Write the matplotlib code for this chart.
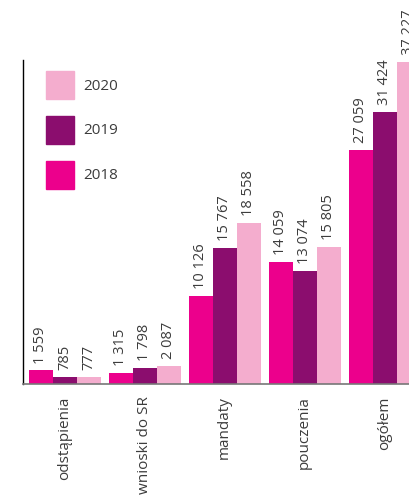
import matplotlib.pyplot as plt
import numpy as np
from matplotlib.patches import Patch

plt.rcParams['font.family'] = ['Open Sans', 'DejaVu Sans']

categories = ['odstąpienia', 'wnioski do SR', 'mandaty', 'pouczenia', 'ogółem']
years = ['2018', '2019', '2020']
v2018 = [1559, 1315, 10126, 14059, 27059]
v2019 = [785, 1798, 15767, 13074, 31424]
v2020 = [777, 2087, 18558, 15805, 37227]

colors = ['#EC008C', '#8B0D6E', '#F4ADCE']
text_color = '#3c3c3c'


def fmt(v):
    return f'{v:,}'.replace(',', ' ')


fig = plt.figure(figsize=(4.09, 4.97), dpi=100)
ax = fig.add_axes([0.0562, 0.2274, 0.972, 0.6519])

x = np.arange(len(categories))
width = 0.3
for i, (vals, c) in enumerate(zip([v2018, v2019, v2020], colors)):
    pos = x + (i - 1) * width
    ax.bar(pos, vals, width=width, color=c, linewidth=0)
    for p, v in zip(pos, vals):
        ax.annotate(fmt(v), (p, v), xytext=(0, 5), textcoords='offset points',
                    rotation=90, ha='center', va='bottom', fontsize=10.5,
                    color=text_color, annotation_clip=False)

ax.set_xlim(-0.52, 4.45)
ax.set_ylim(0, 37450)
ax.set_yticks([])
ax.set_xticks(x)
ax.set_xticklabels(categories, rotation=90, fontsize=11, color=text_color)
ax.tick_params(axis='x', length=0, pad=9)

for s in ['top', 'right']:
    ax.spines[s].set_visible(False)
ax.spines['left'].set_color('black')
ax.spines['left'].set_linewidth(1)
ax.spines['bottom'].set_color('#777777')
ax.spines['bottom'].set_linewidth(1.2)

# legend: squares ~28 px, gap ~17 px
handles = [Patch(color=colors[i], label=years[i]) for i in [2, 1, 0]]
fig.legend(handles=handles, loc='upper left',
           bbox_to_anchor=(46 / 409, 1 - 71 / 497),
           frameon=False, fontsize=11, handlelength=1.83, handleheight=2.44,
           labelspacing=1.1, handletextpad=0.6, borderpad=0, borderaxespad=0,
           labelcolor=text_color)

plt.savefig('out.png', dpi=100)
